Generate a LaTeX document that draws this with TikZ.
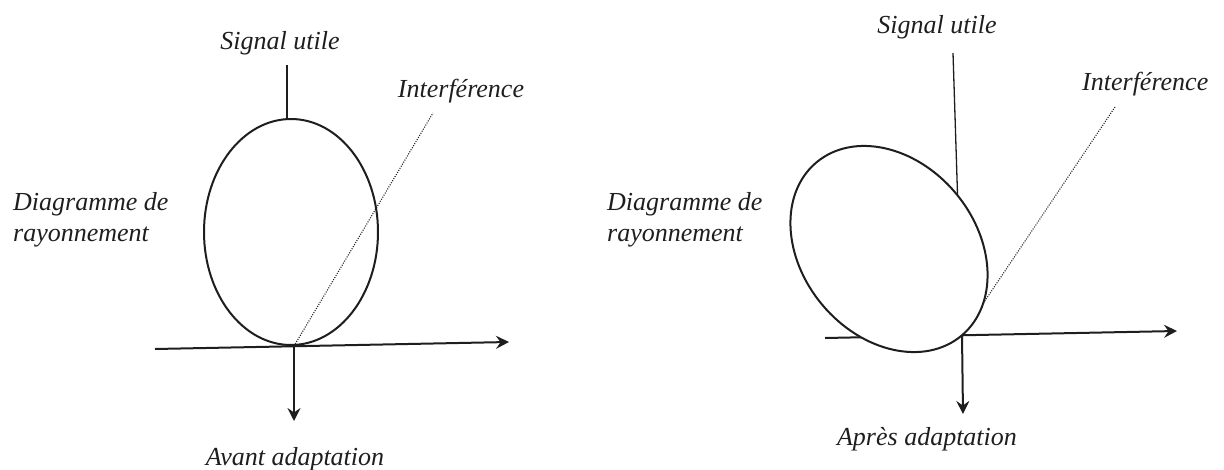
\documentclass[tikz,border=0pt]{standalone}
\usepackage{fontspec}
\setmainfont{Liberation Serif}
\usetikzlibrary{arrows.meta,shapes.geometric,backgrounds}
\definecolor{ink}{HTML}{1E1E1E}
\begin{document}
\begin{tikzpicture}[x=1pt,y=-1pt,
  lbl/.style={inner sep=0pt, font=\fontsize{26pt}{31pt}\selectfont\itshape, text=ink},
  axisline/.style={line width=2pt, draw=ink},
  arr/.style={axisline, -{Stealth[length=13pt,width=13pt,inset=4.5pt]}},
  thinline/.style={line width=1.3pt, draw=ink},
  dotline/.style={line width=1.1pt, draw=ink, dash pattern=on 1pt off 1.4pt},
  lobe/.style={ellipse, draw=ink, line width=2pt, fill=white,
    minimum width=174pt, minimum height=226pt, inner sep=0pt}]
\useasboundingbox (0,0) rectangle (1224,469);

% ---------- left diagram ----------
\node[lobe] (E1) at (291,232) {};
\coordinate (O1) at (294,346);
\coordinate (X1a) at (155,349);
\coordinate (X1b) at (509,342);
\coordinate (D1) at (294,421);
\coordinate (S1a) at (287,65);
\coordinate (S1b) at (287,122);
\coordinate (I1) at (433,113);

% ---------- right diagram ----------
\node[lobe, rotate=40] (E2) at (889,249) {};
\coordinate (O2) at (962,335);
\coordinate (X2a) at (825,338);
\coordinate (X2b) at (1177,331);
\coordinate (V2a) at (953,53);
\coordinate (D2) at (963,414);
\coordinate (I2) at (1115,107);

\begin{pgfonlayer}{background}
  \draw[arr] (X1a) -- (X1b);
  \draw[arr] (O1) -- (D1);
  \draw[thinline] (S1a) -- (S1b);
  \draw[arr] (X2a) -- (X2b);
  \draw[thinline] (V2a) -- (O2);
  \draw[arr] (O2) -- (D2);
  \draw[dotline] (O2) -- (I2);
\end{pgfonlayer}

\draw[dotline] (O1) -- (I1);

% ---------- labels ----------
\node[lbl, anchor=base] (sig1) at (280,49) {Signal utile};
\node[lbl, anchor=base] (int1) at (461,97) {Interférence};
\node[lbl, anchor=base] (cap1) at (295,465) {Avant adaptation};
\node[lbl, anchor=west, align=left] (dia1) at (13,220) {Diagramme de\\rayonnement};

\node[lbl, anchor=base] (sig2) at (937,33) {Signal utile};
\node[lbl, anchor=base west] (int2) at (1082,90) {Interférence};
\node[lbl, anchor=base] (cap2) at (927,445) {Après adaptation};
\node[lbl, anchor=west, align=left] (dia2) at (607,220) {Diagramme de\\rayonnement};
\end{tikzpicture}
\end{document}
